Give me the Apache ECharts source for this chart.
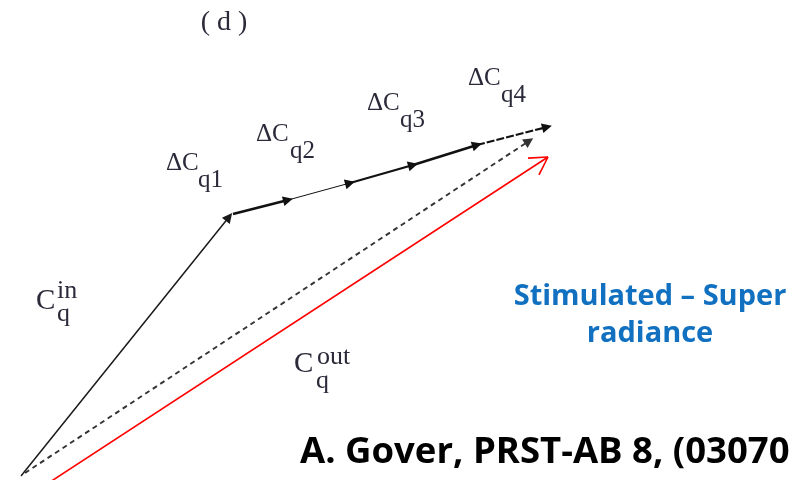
<!DOCTYPE html>
<html>
<head>
<meta charset="utf-8">
<script src="https://cdn.jsdelivr.net/npm/echarts@6/dist/echarts.min.js"></script>
<style>
  html, body { margin: 0; padding: 0; background: #fff; }
  #chart { width: 795px; height: 480px; }
</style>
</head>
<body>
<div id="chart"></div>
<script>
// Phasor diagram: input field vector, chain of field increments, resulting output vector
const vecIn = [[21, 476], [229, 217]];
const deltaChain = [[233, 214], [288, 200], [350, 183], [413, 165], [477, 145], [547, 127]];
const vecOutDashed = [[25, 473], [529, 141]];
const vecSum = [[50, 482], [548, 157]];

// Styling of each increment segment of the chain
const chainWidths = [2.6, 1, 2.2, 2.6, 2.2];
const chainTypes = ['solid', 'solid', 'solid', 'solid', [8, 2]];

const chart = echarts.init(document.getElementById('chart'), null, { renderer: 'canvas' });

const chainData = [];
for (let i = 0; i < deltaChain.length - 1; i++) {
  chainData.push({
    coords: [deltaChain[i], deltaChain[i + 1]],
    lineStyle: { width: chainWidths[i], type: chainTypes[i], color: '#111' }
  });
}

// Open arrowhead arms for the red vector, built from its direction
function chevronArms(from, tip, len, angDeg) {
  const dx = from[0] - tip[0], dy = from[1] - tip[1];
  const d = Math.hypot(dx, dy);
  const ux = dx / d, uy = dy / d;
  const arms = [];
  [angDeg, -angDeg].forEach(function (a) {
    const r = a * Math.PI / 180;
    const rx = ux * Math.cos(r) - uy * Math.sin(r);
    const ry = ux * Math.sin(r) + uy * Math.cos(r);
    arms.push({ coords: [tip, [tip[0] + rx * len, tip[1] + ry * len]] });
  });
  return arms;
}

const serif = '"Liberation Serif", "DejaVu Serif", serif';
const sans = '"Open Sans", Lato, sans-serif';
const ink = '#2a2a3a';

function txt(x, y, s, size, opts) {
  opts = opts || {};
  return {
    type: 'text', x: x, y: y, silent: true,
    style: {
      text: s,
      font: (opts.weight || 'normal') + ' ' + size + 'px ' + (opts.family || serif),
      fill: opts.color || ink,
      textAlign: opts.align || 'left', align: opts.align || 'left',
      textVerticalAlign: 'middle', verticalAlign: 'middle'
    }
  };
}

const option = {
  animation: false,
  grid: { left: 0, right: 0, top: 0, bottom: 0 },
  xAxis: { type: 'value', min: 0, max: 795, show: false },
  yAxis: { type: 'value', min: 0, max: 480, inverse: true, show: false },
  series: [
    {
      name: 'sum', type: 'lines', coordinateSystem: 'cartesian2d',
      symbol: ['none', 'none'],
      lineStyle: { color: '#ff0000', width: 1.6, opacity: 1 },
      data: [{ coords: vecSum }].concat(chevronArms(vecSum[0], vecSum[1], 20, 30)),
      clip: false, z: 2
    },
    {
      name: 'out', type: 'lines', coordinateSystem: 'cartesian2d',
      symbol: ['none', 'triangle'], symbolSize: 10,
      lineStyle: { color: '#333', width: 1.9, type: [5, 4], opacity: 1 },
      data: [{ coords: vecOutDashed }], z: 3
    },
    {
      name: 'in', type: 'lines', coordinateSystem: 'cartesian2d',
      symbol: ['none', 'triangle'], symbolSize: 10,
      lineStyle: { color: '#1a1a1a', width: 1.5, opacity: 1 },
      data: [{ coords: vecIn }], z: 4
    },
    {
      name: 'chain', type: 'lines', coordinateSystem: 'cartesian2d',
      symbol: ['none', 'triangle'], symbolSize: 10,
      lineStyle: { color: '#111', opacity: 1 },
      data: chainData, z: 5
    }
  ],
  graphic: [
    txt(224, 23, '( d )', 28, { align: 'center' }),
    txt(166, 163, 'ΔC', 25), txt(198, 180, 'q1', 25),
    txt(256, 134, 'ΔC', 25), txt(290, 151, 'q2', 25),
    txt(367, 103, 'ΔC', 25), txt(400, 120, 'q3', 25),
    txt(468, 78, 'ΔC', 25), txt(501, 95, 'q4', 25),
    txt(36, 301, 'C', 29), txt(57, 291, 'in', 26), txt(57, 314, 'q', 26),
    txt(294, 364, 'C', 29), txt(317, 357, 'out', 26), txt(316, 381, 'q', 26),
    txt(650, 297, 'Stimulated – Super', 29, { align: 'center', weight: 'bold', family: sans, color: '#1170c0' }),
    txt(650, 334, 'radiance', 29, { align: 'center', weight: 'bold', family: sans, color: '#1170c0' }),
    txt(300, 453, 'A. Gover, PRST-AB 8, (03070', 36.5, { weight: 'bold', family: sans, color: '#000' })
  ]
};

chart.setOption(option);
</script>
</body>
</html>
